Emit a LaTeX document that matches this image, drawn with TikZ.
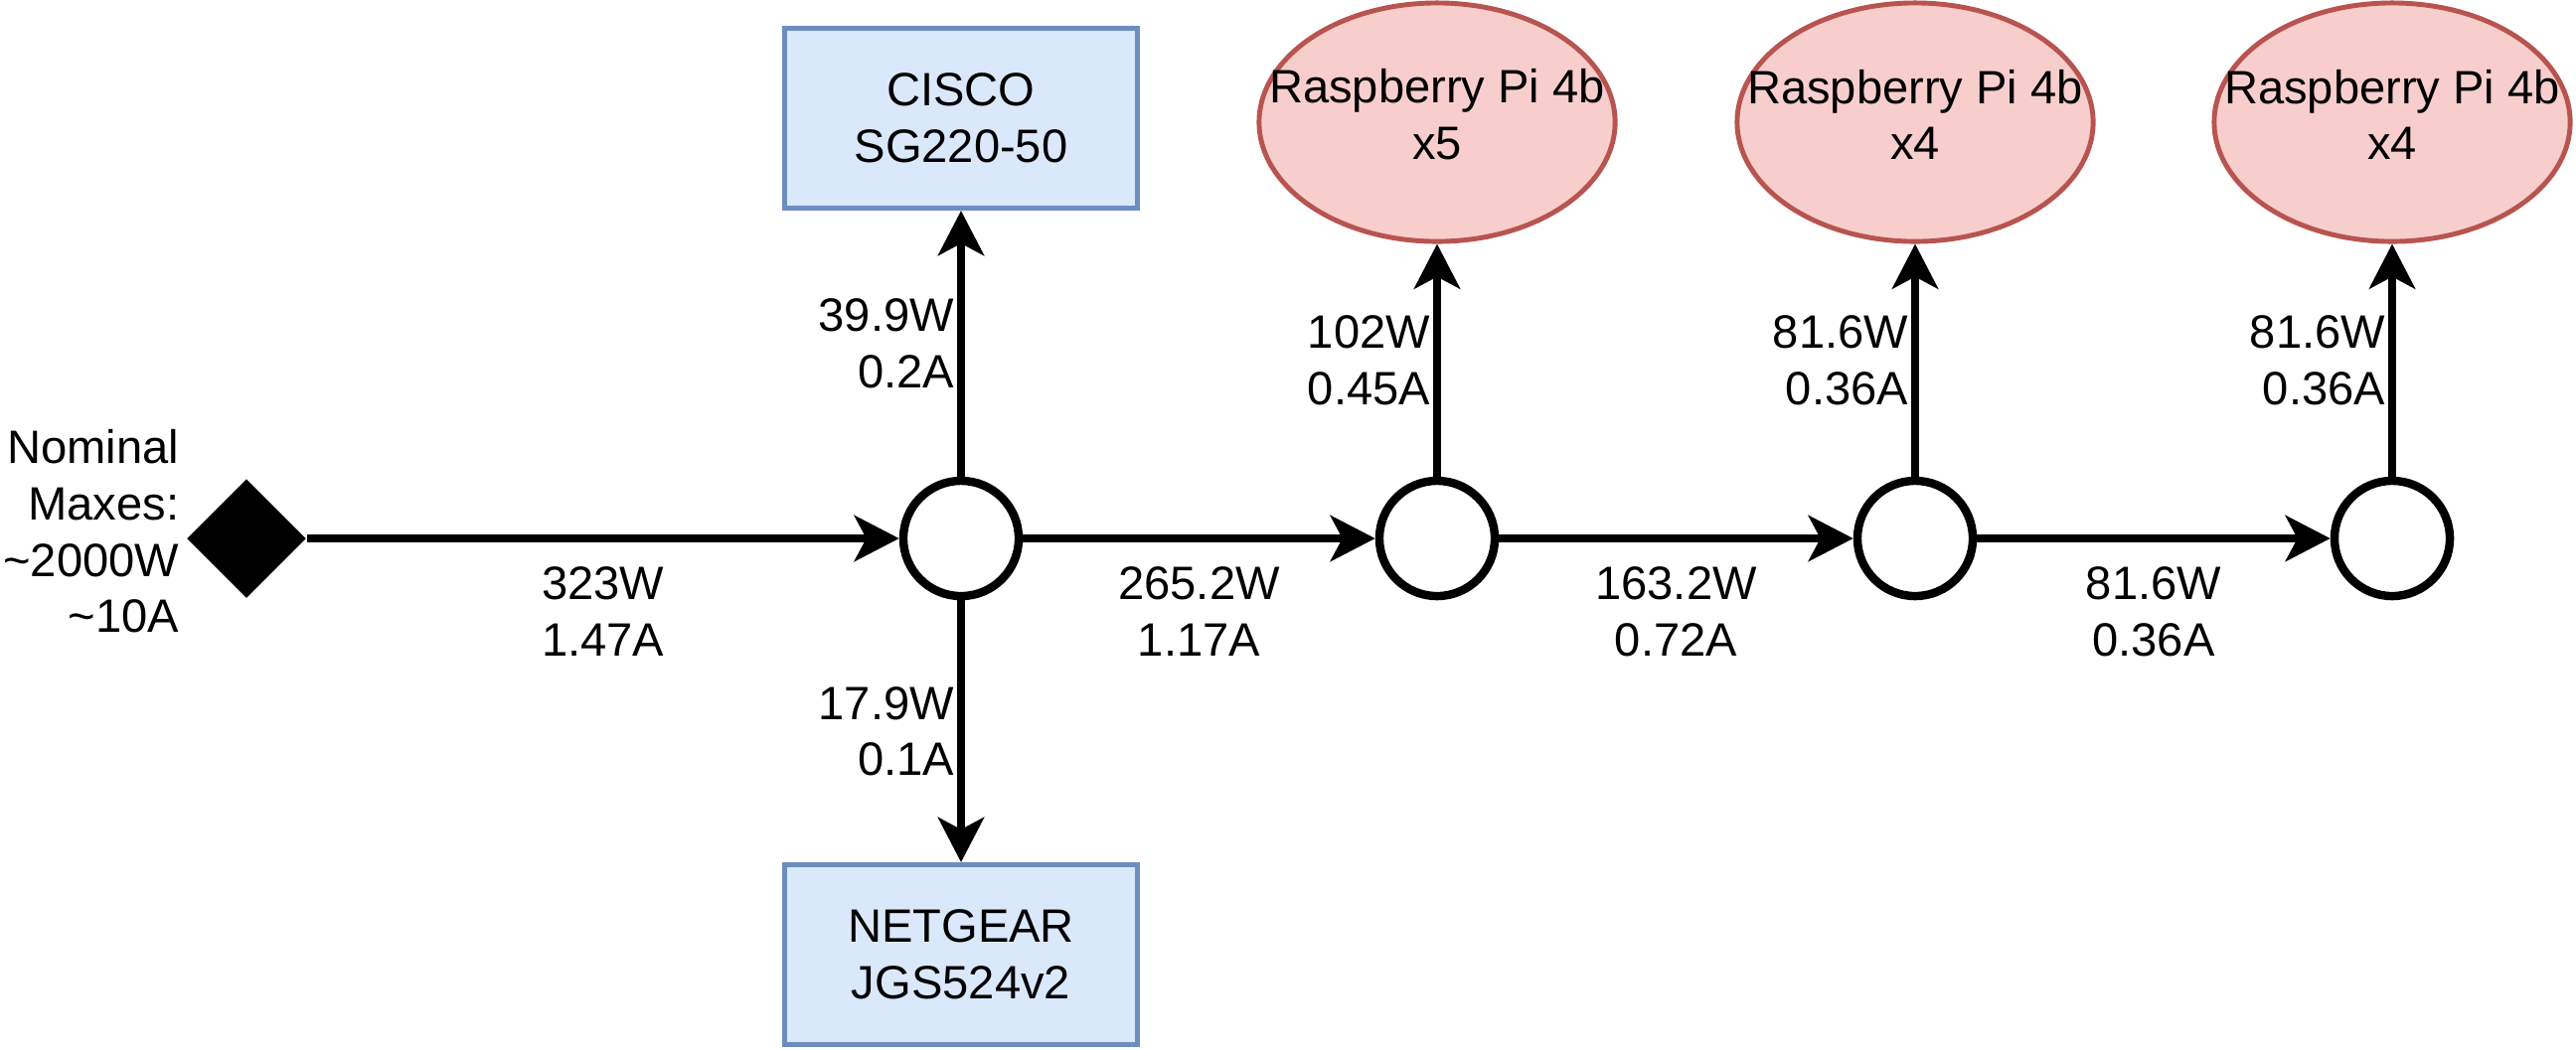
\documentclass[tikz,border=0pt]{standalone}
\usepackage{fontspec}
\setmainfont{Liberation Sans}
\usepackage{tikz}
\usetikzlibrary{arrows.meta}
\usetikzlibrary{shapes.geometric}
\definecolor{swfill}{HTML}{DAE8FC}
\definecolor{swline}{HTML}{6C8EBF}
\definecolor{pifill}{HTML}{F8CECC}
\definecolor{piline}{HTML}{B85450}
\begin{document}
\begin{tikzpicture}[x=0.01cm, y=-0.01cm,
    every node/.style={font=\fontsize{13.4}{16.1}\selectfont},
    switch/.style={draw=swline, fill=swfill, line width=1.4pt, minimum width=3.54cm, minimum height=1.81cm, align=center},
    pi/.style={ellipse, draw=piline, fill=pifill, line width=1.4pt, minimum width=3.58cm, minimum height=2.4cm, inner sep=0pt},
    junction/.style={circle, draw, line width=2.4pt, minimum size=1.16cm, inner sep=0pt},
    source/.style={diamond, fill=black, minimum size=1.2cm, inner sep=0pt},
    feed/.style={line width=2.4pt, -{Stealth[length=4.5mm, width=4.6mm, inset=1.2mm]}},
    lblh/.style={align=center, inner sep=0pt, below=7pt, midway},
    lblv/.style={align=right, inner sep=0pt, left=0.8pt, midway}]
          \useasboundingbox (0,0) rectangle (2592,1056);

          \node [source] (src) at (248,542) {}; % the supply
          \node [anchor=east, align=right, inner sep=0pt] (note) at (181,535) {Nominal\\Maxes:\\\textasciitilde2000W\\\textasciitilde10A};

          \node [junction] (jn1) at (967,542) {}; % Draws a junction
          \node [junction] (jn2) at (1446,542) {}; % Draws a junction
          \node [junction] (jn3) at (1927,542) {}; % Draws a junction
          \node [junction] (jn4) at (2407,542) {}; % Draws a junction

          \node [switch] (cisco) at (967,119) {CISCO\\SG220-50}; % Draws a switch
          \node [switch] (netgear) at (967,961) {NETGEAR\\JGS524v2}; % Draws a switch

          \node [pi, label={[align=center, yshift=2.2pt]center:Raspberry Pi 4b\\x5}] (pi1) at (1446,123) {}; % Draws a Pi group
          \node [pi, label={[align=center, yshift=2.2pt]center:Raspberry Pi 4b\\x4}] (pi2) at (1927,123) {}; % Draws a Pi group
          \node [pi, label={[align=center, yshift=2.2pt]center:Raspberry Pi 4b\\x4}] (pi3) at (2407,123) {}; % Draws a Pi group

          \draw [feed] (src) -- (jn1) node [lblh] {323W\\1.47A};
          \draw [feed] (jn1) -- (cisco) node [lblv] {39.9W\\0.2A};
          \draw [feed] (jn1) -- (netgear) node [lblv] {17.9W\\0.1A};

          \draw [feed] (jn1) -- (jn2) node [lblh] {265.2W\\1.17A};
          \draw [feed] (jn2) -- (jn3) node [lblh] {163.2W\\0.72A};
          \draw [feed] (jn3) -- (jn4) node [lblh] {81.6W\\0.36A};

          \draw [feed] (jn2) -- (pi1) node [lblv] {102W\\0.45A};
          \draw [feed] (jn3) -- (pi2) node [lblv] {81.6W\\0.36A};
          \draw [feed] (jn4) -- (pi3) node [lblv] {81.6W\\0.36A};
        \end{tikzpicture}
\end{document}
